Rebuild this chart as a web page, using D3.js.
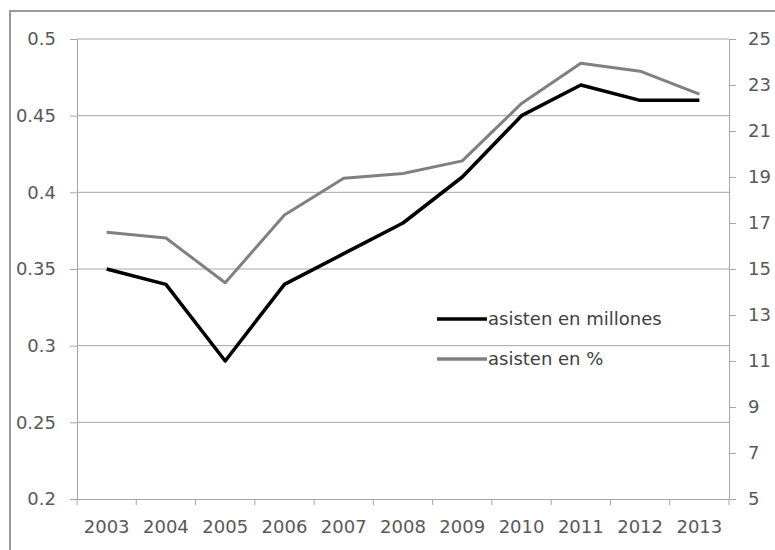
<!DOCTYPE html>
<html><head><meta charset="utf-8">
<script src="https://cdn.jsdelivr.net/npm/d3@7"></script>
<style>body{margin:0;background:#fff}</style>
</head><body>
<svg id="c" width="775" height="550"></svg>
<script>
const years = ["2003","2004","2005","2006","2007","2008","2009","2010","2011","2012","2013"];
const millones = [0.35,0.34,0.29,0.34,0.36,0.38,0.41,0.45,0.47,0.46,0.46];
const porcentaje = [16.6,16.35,14.4,17.35,18.95,19.15,19.7,22.2,23.95,23.6,22.6];
const leftTicks = [0.2,0.25,0.3,0.35,0.4,0.45,0.5];
const rightTicks = [5,7,9,11,13,15,17,19,21,23,25];
const seriesNames = ["asisten en millones","asisten en %"];

const svg = d3.select("#c");
const m = {l:77, r:729, t:39, b:499};
const font = "'DejaVu Sans', Verdana, sans-serif";

svg.append("rect").attr("x",10).attr("y",11).attr("width",780).attr("height",560)
  .attr("fill","#fff").attr("stroke","#9a9a9a").attr("stroke-width",2);

const x = d3.scaleBand().domain(years).range([m.l,m.r]);
const yL = d3.scaleLinear().domain([0.2,0.5]).range([m.b,m.t]);
const yR = d3.scaleLinear().domain([5,25]).range([m.b,m.t]);

// gridlines
svg.append("g").selectAll("line").data(leftTicks.filter(d=>d>0.2)).join("line")
  .attr("x1",m.l).attr("x2",m.r).attr("y1",d=>yL(d)).attr("y2",d=>yL(d))
  .attr("stroke","#a6a6a6").attr("stroke-width",1);

// left axis
const gl = svg.append("g").attr("transform",`translate(${m.l},0)`)
  .call(d3.axisLeft(yL).tickValues(leftTicks).tickFormat(d=>String(+d.toFixed(2))).tickSizeOuter(0).tickSize(7).tickPadding(14));
// right axis
const gr = svg.append("g").attr("transform",`translate(${m.r},0)`)
  .call(d3.axisRight(yR).tickValues(rightTicks).tickSizeOuter(0).tickSize(7).tickPadding(12));
// bottom axis
const gb = svg.append("g").attr("transform",`translate(0,${m.b})`)
  .call(d3.axisBottom(x).tickSize(0).tickPadding(21).tickSizeOuter(0));
gb.selectAll(".tick").append("line")
  .attr("x1",-x.bandwidth()/2).attr("x2",-x.bandwidth()/2).attr("y1",0).attr("y2",6)
  .attr("stroke","#a6a6a6");
gb.append("line").attr("x1",x.range()[1]).attr("x2",x.range()[1]).attr("y1",0).attr("y2",6).attr("stroke","#a6a6a6");

[gl,gr,gb].forEach(g=>{
  g.selectAll(".domain").attr("stroke","#a6a6a6");
  g.selectAll(".tick line").attr("stroke","#a6a6a6");
  g.selectAll("text").attr("fill","#595959").style("font-family",font).style("font-size","18px");
});

const cx = d=>x(d)+x.bandwidth()/2;
svg.append("path").datum(porcentaje)
  .attr("d",d3.line().x((d,i)=>cx(years[i])).y(d=>yR(d)))
  .attr("fill","none").attr("stroke","#808080").attr("stroke-width",3).attr("stroke-linejoin","round");
svg.append("path").datum(millones)
  .attr("d",d3.line().x((d,i)=>cx(years[i])).y(d=>yL(d)))
  .attr("fill","none").attr("stroke","#000").attr("stroke-width",3.5).attr("stroke-linejoin","round");

// legend
const lg = svg.append("g");
const legCol = ["#000","#808080"];
seriesNames.forEach((n,i)=>{
  const yy = 319 + i*40;
  lg.append("line").attr("x1",437).attr("x2",487).attr("y1",yy).attr("y2",yy)
    .attr("stroke",legCol[i]).attr("stroke-width",3.5);
  lg.append("text").attr("x",488).attr("y",yy+6).text(n)
    .attr("fill","#404040").style("font-family",font).style("font-size","18px");
});
</script>
</body></html>
